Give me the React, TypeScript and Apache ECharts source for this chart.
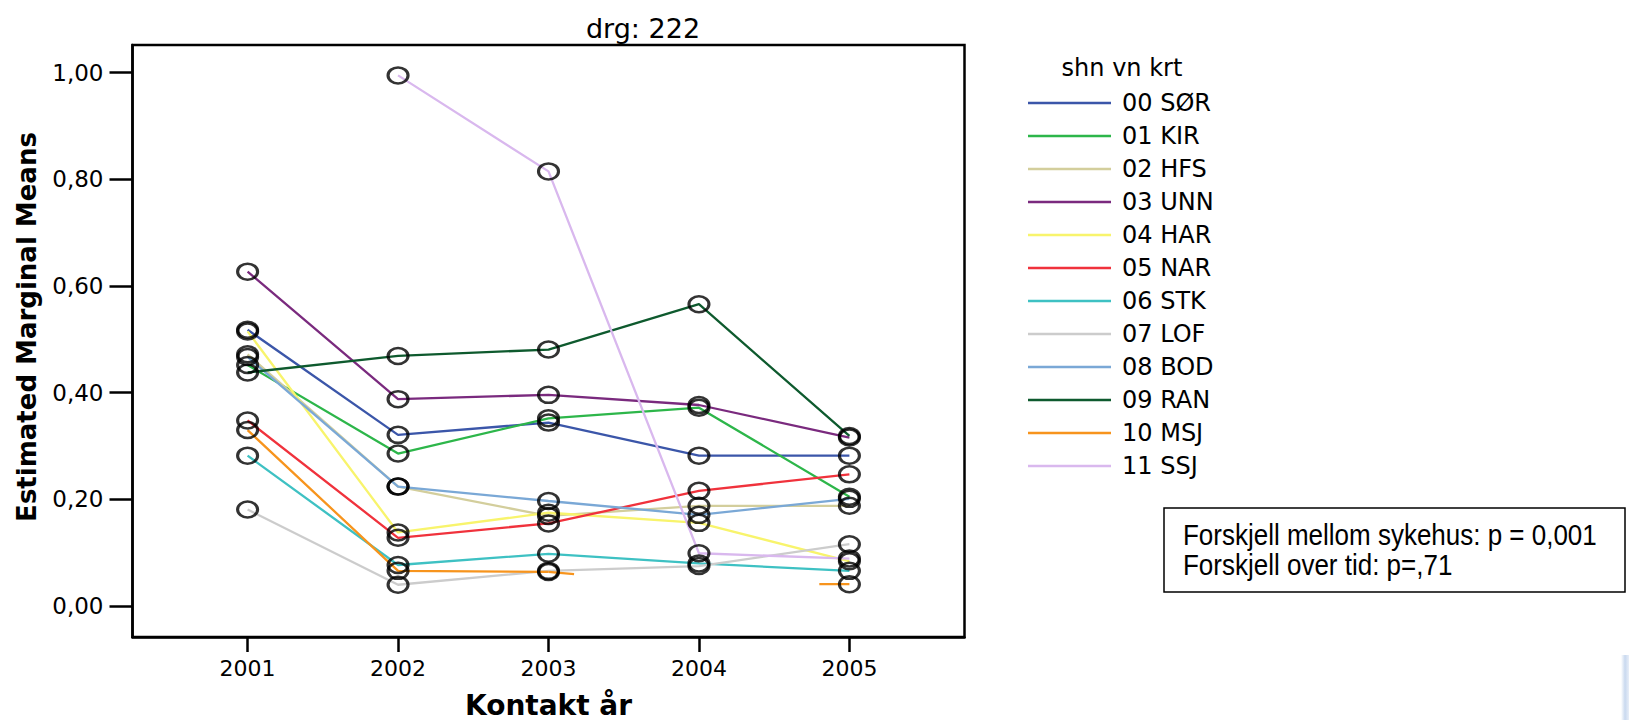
import React, { useEffect, useRef } from "react";
import * as echarts from "echarts";

// ---- data ----
const years = [2001, 2002, 2003, 2004, 2005];
const hospitals = ["00 SØR", "01 KIR", "02 HFS", "03 UNN", "04 HAR", "05 NAR", "06 STK", "07 LOF", "08 BOD", "09 RAN", "10 MSJ", "11 SSJ"];
const sor = [0.518, 0.321, 0.344, 0.282, 0.282];
const kir = [0.452, 0.286, 0.352, 0.372, 0.205];
const hfs = [0.472, 0.224, 0.169, 0.188, 0.188];
const unn = [0.627, 0.388, 0.396, 0.377, 0.316];
const har = [0.515, 0.138, 0.175, 0.156, 0.084];
const nar = [0.348, 0.128, 0.155, 0.216, 0.247];
const stk = [0.282, 0.077, 0.098, 0.080, 0.066];
const lof = [0.181, 0.040, 0.066, 0.075, 0.116];
const bod = [0.467, 0.224, 0.197, 0.171, 0.201];
const ran = [0.438, 0.469, 0.481, 0.566, 0.319];
const msj = [0.330, 0.066, 0.064, null, 0.041];
const ssj = [null, 0.995, 0.815, 0.099, 0.089];
// short partial segments drawn next to the missing 2004 value of 10 MSJ
const msjStubs = [
  [[2003, 0.064], [2003.17, 0.06]],
  [[2004.8, 0.041], [2005, 0.041]],
];
const yTicks = [0, 0.2, 0.4, 0.6, 0.8, 1.0];
const titleText = "drg: 222";
const legendTitle = "shn vn krt";
const xName = "Kontakt år";
const yName = "Estimated Marginal Means";
const statLines = ["Forskjell mellom sykehus: p = 0,001", "Forskjell over tid: p=,71"];

const seriesValues = [sor, kir, hfs, unn, har, nar, stk, lof, bod, ran, msj, ssj];
const colors = ["#3B56A9", "#2DB64A", "#D3CE9C", "#7A2A7E", "#F8F46C", "#F0323C", "#3EC1C3", "#CCCCCC", "#7AA8D6", "#0E5A2E", "#F7941D", "#D9B8EE"];

const SANS = '"DejaVu Sans", sans-serif';
const ARIAL = '"Liberation Sans", Arial, sans-serif';
const ELLIPSE = "path://M0,7A9,7 0 1,1 18,7A9,7 0 1,1 0,7Z";

export default function App() {
  const ref = useRef<HTMLDivElement>(null);
  useEffect(() => {
    if (!ref.current) return;
    const chart = echarts.init(ref.current, null, { renderer: "svg" });

    const lineSeries = hospitals.map((name, i) => ({
      type: "line",
      name,
      data: years.map((yr, j) => (seriesValues[i][j] == null ? [yr, "-"] : [yr, seriesValues[i][j]])),
      symbol: "none",
      showSymbol: false,
      connectNulls: false,
      silent: true,
      z: 2,
      lineStyle: { color: colors[i], width: 2.3 },
      itemStyle: { color: colors[i] },
    }));

    const stubSeries = msjStubs.map((seg, k) => ({
      type: "line",
      name: "msj-stub-" + k,
      data: seg,
      symbol: "none",
      showSymbol: false,
      silent: true,
      z: 2,
      lineStyle: { color: colors[10], width: 2.3 },
      itemStyle: { color: colors[10] },
    }));

    const pointSeries = hospitals.map((name, i) => ({
      type: "scatter",
      name: name + " pts",
      data: years
        .map((yr, j) => (seriesValues[i][j] == null ? null : [yr, seriesValues[i][j]]))
        .filter((d) => d !== null),
      symbol: ELLIPSE,
      symbolSize: [20, 16],
      silent: true,
      z: 3,
      itemStyle: { color: "rgba(0,0,0,0)", borderColor: "#000", borderWidth: 2.8 },
    }));

    const option: any = {
      animation: false,
      backgroundColor: "#fff",
      grid: {
        left: 132.5,
        top: 45,
        width: 832,
        height: 592,
        containLabel: false,
        outerBoundsMode: "none",
        show: true,
        borderColor: "#000",
        borderWidth: 2.5,
        backgroundColor: "transparent",
      },
      xAxis: {
        type: "value",
        min: 2000.235,
        max: 2005.765,
        name: xName,
        nameLocation: "middle",
        nameGap: 54,
        nameTextStyle: { fontFamily: SANS, fontWeight: "bold", fontSize: 28, color: "#000" },
        axisLine: { show: true, onZero: false, lineStyle: { color: "#000", width: 2.5 } },
        axisTick: { show: true, length: 15, customValues: years, lineStyle: { color: "#000", width: 2.5 } },
        axisLabel: {
          customValues: years,
          margin: 20,
          fontFamily: SANS,
          fontSize: 22,
          color: "#000",
          formatter: (v: number) => String(v),
        },
        splitLine: { show: false },
      },
      yAxis: {
        type: "value",
        min: -0.058,
        max: 1.052,
        axisLine: { show: true, onZero: false, lineStyle: { color: "#000", width: 2.5 } },
        axisTick: { show: true, length: 23, customValues: yTicks, lineStyle: { color: "#000", width: 2.5 } },
        axisLabel: {
          customValues: yTicks,
          margin: 29,
          fontFamily: SANS,
          fontSize: 23,
          color: "#000",
          formatter: (v: number) => v.toFixed(2).replace(".", ","),
        },
        splitLine: { show: false },
      },
      legend: {
        orient: "vertical",
        left: 1023,
        top: 86,
        icon: "rect",
        itemWidth: 83,
        itemHeight: 2.5,
        itemGap: 9,
        selectedMode: false,
        data: hospitals.map((n, i) => ({ name: n, itemStyle: { color: colors[i], borderWidth: 0 } })),
        textStyle: { fontFamily: SANS, fontSize: 24, color: "#000", lineHeight: 24, padding: [0, 0, 0, 6] },
      },
      graphic: [
        {
          type: "text",
          x: 643,
          y: 28,
          style: { text: titleText, font: "27px " + SANS, fill: "#000", align: "center", verticalAlign: "middle" },
        },
        {
          type: "text",
          x: 1122,
          y: 68,
          style: { text: legendTitle, font: "24px " + SANS, fill: "#000", align: "center", verticalAlign: "middle" },
        },
        {
          type: "text",
          x: 27,
          y: 327,
          rotation: Math.PI / 2,
          style: { text: yName, font: "bold 26px " + SANS, fill: "#000", align: "center", verticalAlign: "middle" },
        },
        {
          type: "rect",
          shape: { x: 1164, y: 508, width: 461, height: 84 },
          style: { fill: "#fff", stroke: "#000", lineWidth: 1.5 },
        },
        {
          type: "text",
          x: 1183,
          y: 520,
          scaleY: 1.15,
          style: { text: statLines.join("\n"), font: "26px " + ARIAL, lineHeight: 26, fill: "#000", verticalAlign: "top" },
        },
        {
          type: "rect",
          shape: { x: 1621, y: 655, width: 8, height: 65 },
          style: {
            fill: new echarts.graphic.LinearGradient(0, 0, 1, 0, [
              { offset: 0, color: "#ffffff" },
              { offset: 0.5, color: "#c9d9ef" },
              { offset: 1, color: "#e8eef8" },
            ]),
          },
        },
      ],
      series: [...lineSeries, ...stubSeries, ...pointSeries],
    };

    chart.setOption(option);
    return () => chart.dispose();
  }, []);

  return (
    <div
      ref={ref}
      style={{ position: "fixed", left: 0, top: 0, width: 1629, height: 720, background: "#fff" }}
    />
  );
}
